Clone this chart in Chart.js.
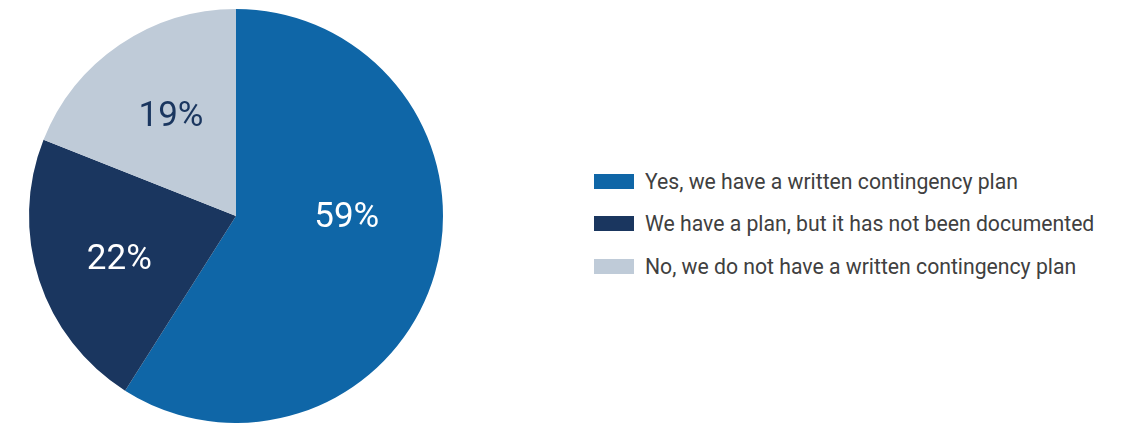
<!DOCTYPE html>
<html>
<head>
<meta charset="utf-8">
<script src="https://cdn.jsdelivr.net/npm/chart.js@4/dist/chart.umd.min.js"></script>
<style>
    html, body { margin: 0; padding: 0; background: #fff; }
    body { width: 1124px; height: 423px; position: relative; overflow: hidden; font-family: Roboto, "Noto Sans", sans-serif; }
    #pie-wrap { position: absolute; left: 0; top: 0; width: 472px; height: 423px; }
    #legend { position: absolute; left: 594px; top: 169px; }
    .legend-item { display: flex; align-items: center; height: 24px; margin-bottom: 18.5px; font-size: 21.2px; color: #404040; white-space: nowrap; }
    .legend-box { width: 40px; height: 15px; margin-right: 11px; flex: none; }
</style>
</head>
<body>
<div id="pie-wrap"><canvas id="pieChart"></canvas></div>
<div id="legend"></div>
<script>
    // данные диаграммы
    const categories = [
        'Yes, we have a written contingency plan',
        'We have a plan, but it has not been documented',
        'No, we do not have a written contingency plan'
    ];
    const shares = [59, 22, 19];
    const colors = ['#0f66a7', '#1a365f', '#bfcbd8'];
    const labelColors = ['#ffffff', '#ffffff', '#1a365f'];

    // подписи процентов внутри секторов
    const sliceLabels = {
        id: 'sliceLabels',
        afterDatasetsDraw(chart, args, opts) {
            const ctx = chart.ctx;
            const meta = chart.getDatasetMeta(0);
            ctx.save();
            ctx.font = '35px Roboto';
            ctx.textAlign = 'center';
            ctx.textBaseline = 'middle';
            meta.data.forEach((arc, i) => {
                const p = arc.getProps(['x', 'y', 'startAngle', 'endAngle', 'outerRadius'], true);
                const mid = (p.startAngle + p.endAngle) / 2 + (opts.shift[i] || 0) * Math.PI / 180;
                const r = p.outerRadius * opts.dist[i];
                ctx.fillStyle = labelColors[i];
                ctx.fillText(shares[i] + '%', p.x + Math.cos(mid) * r, p.y + Math.sin(mid) * r + 2);
            });
            ctx.restore();
        }
    };

    new Chart(document.getElementById('pieChart'), {
        type: 'pie',
        data: {
            labels: categories,
            datasets: [{
                data: shares,
                backgroundColor: colors,
                borderWidth: 0
            }]
        },
        options: {
            responsive: true,
            maintainAspectRatio: false,
            animation: false,
            layout: { padding: { top: 9, bottom: 0 } },
            plugins: {
                legend: { display: false },
                tooltip: { enabled: false },
                sliceLabels: { dist: [0.535, 0.6, 0.58], shift: [-16, -2, 1.4] }
            }
        },
        plugins: [sliceLabels]
    });

    // легенда справа
    const legend = document.getElementById('legend');
    categories.forEach((name, i) => {
        const item = document.createElement('div');
        item.className = 'legend-item';
        const box = document.createElement('span');
        box.className = 'legend-box';
        box.style.backgroundColor = colors[i];
        const text = document.createElement('span');
        text.textContent = name;
        item.appendChild(box);
        item.appendChild(text);
        legend.appendChild(item);
    });
</script>
</body>
</html>
